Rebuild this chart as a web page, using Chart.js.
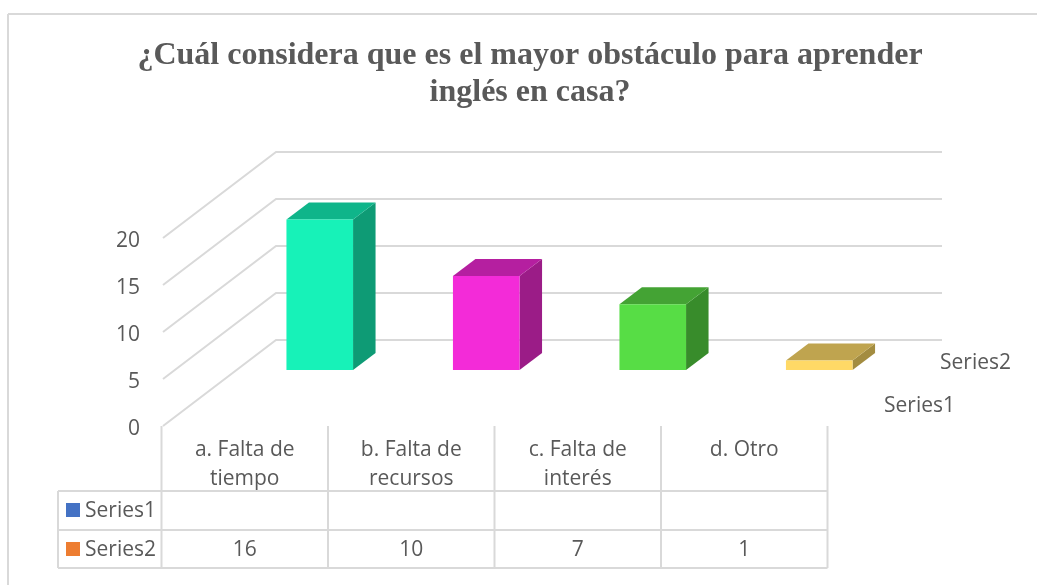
<!DOCTYPE html>
<html>
<head>
<meta charset="utf-8">
<style>
  html, body { margin: 0; padding: 0; background: #fff; }
  canvas { display: block; }
</style>
<script src="https://cdn.jsdelivr.net/npm/chart.js@4"></script>
</head>
<body>
<canvas id="chart" width="1037" height="585"></canvas>
<script>
"use strict";

const titleLines = ["¿Cuál considera que es el mayor obstáculo para aprender", "inglés en casa?"];
const categories = ["a. Falta de tiempo", "b. Falta de recursos", "c. Falta de interés", "d. Otro"];
const categoryLines = [["a. Falta de", "tiempo"], ["b. Falta de", "recursos"], ["c. Falta de", "interés"], ["d. Otro"]];
const series1Values = [null, null, null, null];
const series2Values = [16, 10, 7, 1];
const yTicks = [0, 5, 10, 15, 20];
const barColors = ["#17F2B8", "#F32BD8", "#57DD45", "#FFD966"];
const topColors = ["#0FB58A", "#B51FA0", "#44A334", "#BFA44F"];
const sideColors = ["#0E9B75", "#9B1C87", "#388C2B", "#A38C40"];
const keyColors = ["#4472C4", "#ED7D31"];

const textColor = "#595959";
const lineColor = "#D9D9D9";
const labelFont = "21px 'Open Sans'";

// fake 3d: offsets from the plane the bars stand on
const depth = { dx: 22.5, dy: -17 };
const wall = { frontX: 163, backX: 276, rightX: 942, frontDy: 56, backDy: -30 };
const table = { shift: -75, top: 426, row1: 491, row2: 530, bottom: 568, left: 58 };

function line(ctx, x1, y1, x2, y2) {
  ctx.beginPath();
  ctx.moveTo(x1, y1);
  ctx.lineTo(x2, y2);
  ctx.stroke();
}

function poly(ctx, pts, color) {
  ctx.fillStyle = color;
  ctx.beginPath();
  pts.forEach((p, i) => i ? ctx.lineTo(p[0], p[1]) : ctx.moveTo(p[0], p[1]));
  ctx.closePath();
  ctx.fill();
}

const sketchPlugin = {
  id: "sketch",
  beforeDatasetsDraw(chart) {
    const ctx = chart.ctx;
    const y = chart.scales.y;
    const x = chart.scales.x;
    ctx.save();

    // outer frame
    ctx.strokeStyle = lineColor;
    ctx.lineWidth = 2;
    line(ctx, 8, 14, 1037, 14);
    line(ctx, 8, 14, 8, 585);

    // title
    ctx.fillStyle = textColor;
    ctx.textAlign = "center";
    ctx.textBaseline = "alphabetic";
    ctx.font = "bold 32px 'Liberation Serif'";
    ctx.fillText(titleLines[0], 530, 64);
    ctx.fillText(titleLines[1], 530, 101);

    // walls and value labels
    ctx.font = labelFont;
    y.ticks.forEach(t => {
      const py = y.getPixelForValue(t.value);
      ctx.strokeStyle = lineColor;
      ctx.beginPath();
      ctx.moveTo(wall.frontX, py + wall.frontDy);
      ctx.lineTo(wall.backX, py + wall.backDy);
      ctx.lineTo(wall.rightX, py + wall.backDy);
      ctx.stroke();
      ctx.fillStyle = textColor;
      ctx.textAlign = "right";
      ctx.textBaseline = "middle";
      ctx.fillText(String(t.value), 140, py + wall.frontDy + 3);
    });

    // depth axis names
    ctx.textAlign = "left";
    ctx.textBaseline = "alphabetic";
    ctx.fillText(chart.data.datasets[1].label, 940, 369);
    ctx.fillText(chart.data.datasets[0].label, 884, 412);

    // side and top of each bar
    chart.getDatasetMeta(1).data.forEach((bar, i) => {
      const l = bar.x - bar.width / 2;
      const r = bar.x + bar.width / 2;
      poly(ctx, [[r, bar.y], [r + depth.dx, bar.y + depth.dy], [r + depth.dx, bar.base + depth.dy], [r, bar.base]], sideColors[i]);
      poly(ctx, [[l, bar.y], [l + depth.dx, bar.y + depth.dy], [r + depth.dx, bar.y + depth.dy], [r, bar.y]], topColors[i]);
    });

    // data table
    const step = x.getPixelForValue(1) - x.getPixelForValue(0);
    const colLeft = x.getPixelForValue(0) + table.shift - step / 2;
    const colRight = colLeft + step * categories.length;
    ctx.strokeStyle = lineColor;
    line(ctx, table.left, table.row1, colRight, table.row1);
    line(ctx, table.left, table.row2, colRight, table.row2);
    line(ctx, table.left, table.bottom, colRight, table.bottom);
    line(ctx, table.left, table.row1, table.left, table.bottom);
    categories.forEach((c, i) => {
      const cx = x.getPixelForValue(i) + table.shift;
      line(ctx, cx - step / 2, table.top, cx - step / 2, table.bottom);
      ctx.fillStyle = textColor;
      ctx.textAlign = "center";
      ctx.textBaseline = "alphabetic";
      categoryLines[i].forEach((txt, k) => ctx.fillText(txt, cx, 456 + k * 29));
      ctx.fillText(String(chart.data.datasets[1].data[i]), cx, 556);
    });
    line(ctx, colRight, table.top, colRight, table.bottom);

    // table row names with their keys
    chart.data.datasets.forEach((ds, i) => {
      const rowY = i === 0 ? 503 : 542;
      ctx.fillStyle = keyColors[i];
      ctx.fillRect(66, rowY, 14, 14);
      ctx.fillStyle = textColor;
      ctx.textAlign = "left";
      ctx.fillText(ds.label, 85, rowY + 14);
    });

    ctx.restore();
  }
};

new Chart(document.getElementById("chart"), {
  type: "bar",
  data: {
    labels: categories,
    datasets: [
      { label: "Series1", data: series1Values, backgroundColor: keyColors[0], grouped: false },
      { label: "Series2", data: series2Values, backgroundColor: barColors, grouped: false,
        barPercentage: 0.4, categoryPercentage: 1 }
    ]
  },
  options: {
    responsive: false,
    animation: false,
    layout: { padding: { left: 236.5, right: 134.5, top: 182, bottom: 215 } },
    plugins: { legend: { display: false }, title: { display: false }, tooltip: { enabled: false } },
    scales: {
      x: { display: false },
      y: {
        display: false,
        min: 0,
        max: 20,
        afterBuildTicks(axis) { axis.ticks = yTicks.map(v => ({ value: v })); }
      }
    }
  },
  plugins: [sketchPlugin]
});
</script>
</body>
</html>
